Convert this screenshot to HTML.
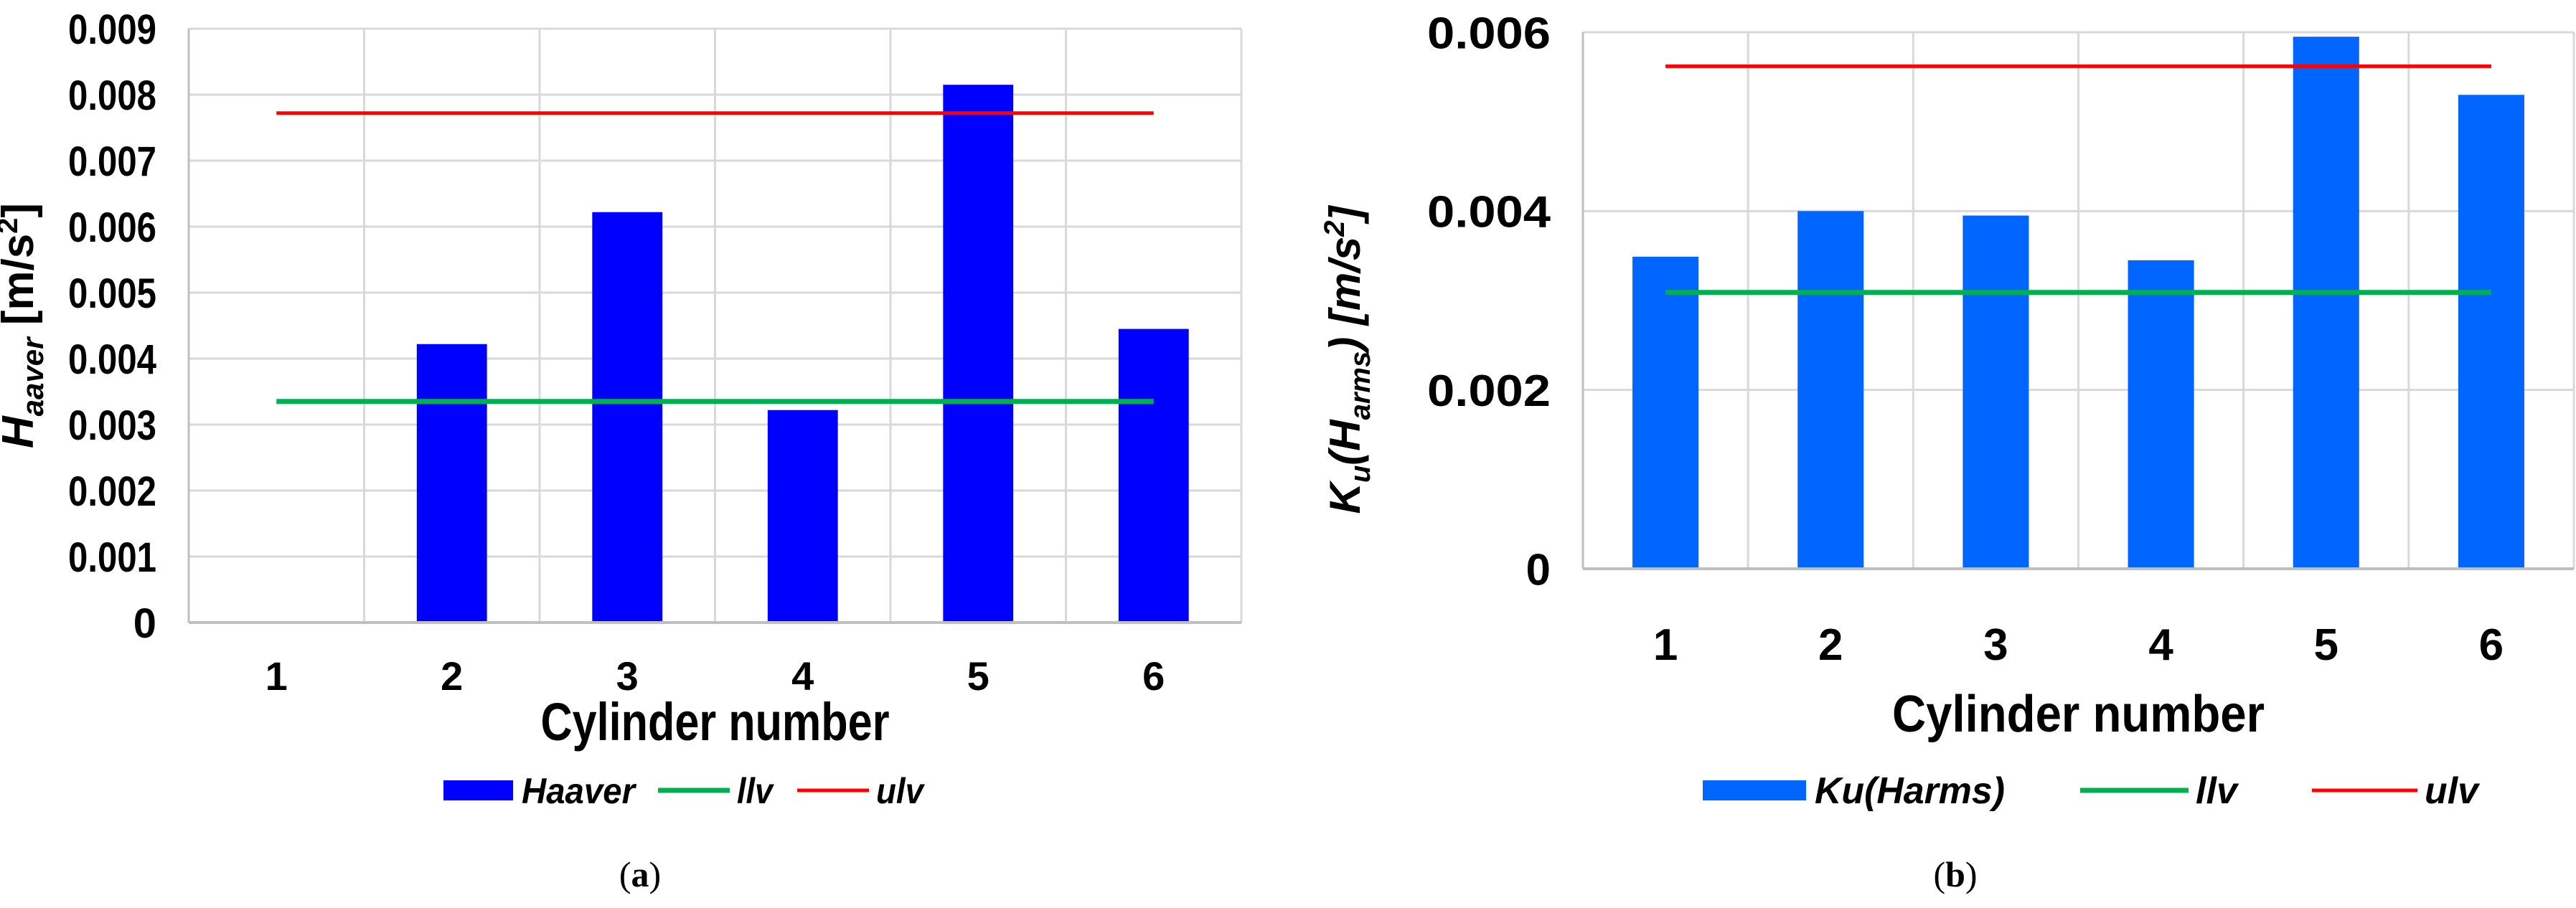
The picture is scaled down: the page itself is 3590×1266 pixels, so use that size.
<!DOCTYPE html>
<html><head><meta charset="utf-8"><style>
html,body{margin:0;padding:0;background:#fff;}
svg{display:block;}
.t{font-family:"Liberation Sans Narrow","Liberation Sans",sans-serif;font-weight:bold;fill:#000;}
.c{font-family:"Liberation Sans","DejaVu Sans",sans-serif;font-weight:bold;fill:#000;}
.cap{font-family:"Liberation Serif",serif;fill:#000;}
</style></head><body>
<svg id="s" width="3590" height="1266" viewBox="0 0 3590 1266">
<g id="ga"></g>
<g id="gb"></g>
<text class="t" x="46" y="454" font-size="62" text-anchor="middle" transform="rotate(-90 46 454)"><tspan font-style="italic">H</tspan><tspan font-style="italic" font-size="42" dy="14">aaver</tspan><tspan dy="-14"> [m/s</tspan><tspan font-size="40" dy="-22">2</tspan><tspan dy="22">]</tspan></text>
<text class="c" x="1895" y="502" font-size="60" text-anchor="middle" transform="rotate(-90 1895 502)" font-style="italic">K<tspan font-size="40" dy="14">u</tspan><tspan dy="-14">(H</tspan><tspan font-size="40" dy="14">arms</tspan><tspan dy="-14">) [m/s</tspan><tspan font-size="40" dy="-22">2</tspan><tspan dy="22">]</tspan></text>
<text class="cap" x="892" y="1236" font-size="50" text-anchor="middle">(<tspan font-weight="bold">a</tspan>)</text>
<text class="cap" x="2725" y="1236" font-size="50" text-anchor="middle">(<tspan font-weight="bold">b</tspan>)</text>
</svg>
<script>
const categoriesA=["1","2","3","4","5","6"];
const valuesA=[0,0.00422,0.00622,0.00322,0.00815,0.00445];
const llvA=0.00335, ulvA=0.00772;
const ticksA=[0,0.001,0.002,0.003,0.004,0.005,0.006,0.007,0.008,0.009];
const tickLabelsA=["0","0.001","0.002","0.003","0.004","0.005","0.006","0.007","0.008","0.009"];
const categoriesB=["1","2","3","4","5","6"];
const valuesB=[0.00349,0.00400,0.00395,0.00345,0.00595,0.00530];
const llvB=0.00309, ulvB=0.00562;
const ticksB=[0,0.002,0.004,0.006];
const tickLabelsB=["0","0.002","0.004","0.006"];
const NS="http://www.w3.org/2000/svg";
function mk(p,tag,at){const e=document.createElementNS(NS,tag);for(const k in at)e.setAttribute(k,at[k]);p.appendChild(e);return e;}
function draw(g,o){
  const {L,R,T,B,max,cats,vals,llv,ulv,ticks,labels,color,cls,fs,xfs,xly,tly,tfs,leg,tw,ttw}=o;
  const y=v=>B-(v/max)*(B-T);
  const cw=(R-L)/cats.length;
  const x=i=>L+cw*(i+0.5);
  ticks.forEach((t,i)=>{
    if(t>0){const gl=mk(g,'line',{x1:L,x2:R,y1:y(t),y2:y(t),stroke:'#d9d9d9','stroke-width':3});
    
    }
    const at={x:L-45,y:y(t)+fs*0.36,'font-size':fs,'text-anchor':'end',class:cls};
    if(labels[i].length>1){at.textLength=tw;at.lengthAdjust='spacingAndGlyphs';}
    const tx=mk(g,'text',at);
    tx.textContent=labels[i];
    
    
  });
  for(let i=0;i<=cats.length;i++){
    const vl=mk(g,'line',{x1:L+cw*i,x2:L+cw*i,y1:T,y2:B,stroke:i==0?'#bfbfbf':'#d9d9d9','stroke-width':3});
    
    
  }
  vals.forEach((v,i)=>{
    if(v>0){const r=mk(g,'rect',{x:x(i)-cw*0.2,y:y(v),width:cw*0.4,height:B-y(v),fill:color});
    
    }
    const t=mk(g,'text',{x:x(i),y:xly,'font-size':xfs,'text-anchor':'middle',class:cls});
    t.textContent=cats[i];
    
    
  });
  const ax=mk(g,'line',{x1:L,x2:R,y1:B,y2:B,stroke:'#bfbfbf','stroke-width':4});
  
  
  const gl=mk(g,'line',{x1:x(0),x2:x(cats.length-1),y1:y(llv),y2:y(llv),stroke:'#00b050','stroke-width':7});
  
  
  const rl=mk(g,'line',{x1:x(0),x2:x(cats.length-1),y1:y(ulv),y2:y(ulv),stroke:'#ff0000','stroke-width':5});
  
  
  const tt=mk(g,'text',{x:(L+R)/2,y:tly,'font-size':tfs,'text-anchor':'middle',class:cls,textLength:ttw,lengthAdjust:'spacingAndGlyphs'});
  tt.textContent='Cylinder number';
  
  
  const ly=1102;
  const lr=mk(g,'rect',{x:leg.r[0],y:ly-14,width:leg.r[1]-leg.r[0],height:28,fill:color});
  
  
  const l1=mk(g,'line',{x1:leg.g[0],x2:leg.g[1],y1:ly,y2:ly,stroke:'#00b050','stroke-width':7});
  
  
  const l2=mk(g,'line',{x1:leg.u[0],x2:leg.u[1],y1:ly,y2:ly,stroke:'#ff0000','stroke-width':5});
  
  
  [[leg.r[1]+12,leg.name,leg.nw],[leg.g[1]+10,'llv',leg.lw],[leg.u[1]+10,'ulv',leg.uw]].forEach((a,k)=>{
    const t=mk(g,'text',{x:a[0],y:ly+18,'font-size':leg.fs,class:cls,'font-style':'italic',textLength:a[2],lengthAdjust:'spacingAndGlyphs'});
    t.textContent=a[1];
    
    
  });
}
draw(document.getElementById('ga'),{L:263,R:1730,T:40,B:868,max:0.009,cats:categoriesA,vals:valuesA,llv:llvA,ulv:ulvA,ticks:ticksA,labels:tickLabelsA,color:'#0000ff',cls:'t',fs:58,xfs:56,xly:962,tly:1032,tfs:74,tw:123,ttw:486,leg:{r:[618,715],g:[917,1017],u:[1111,1211],name:'Haaver',fs:50,nw:158,lw:50,uw:66}});
draw(document.getElementById('gb'),{L:2206,R:3587,T:45,B:793,max:0.006,cats:categoriesB,vals:valuesB,llv:llvB,ulv:ulvB,ticks:ticksB,labels:tickLabelsB,color:'#0066ff',cls:'t',fs:62,xfs:62,xly:920,tly:1020,tfs:72,tw:172,ttw:519,leg:{r:[2373,2517],g:[2899,3050],u:[3222,3369],name:'Ku(Harms)',fs:52,nw:265,lw:58,uw:75}});
</script>
</body></html>
